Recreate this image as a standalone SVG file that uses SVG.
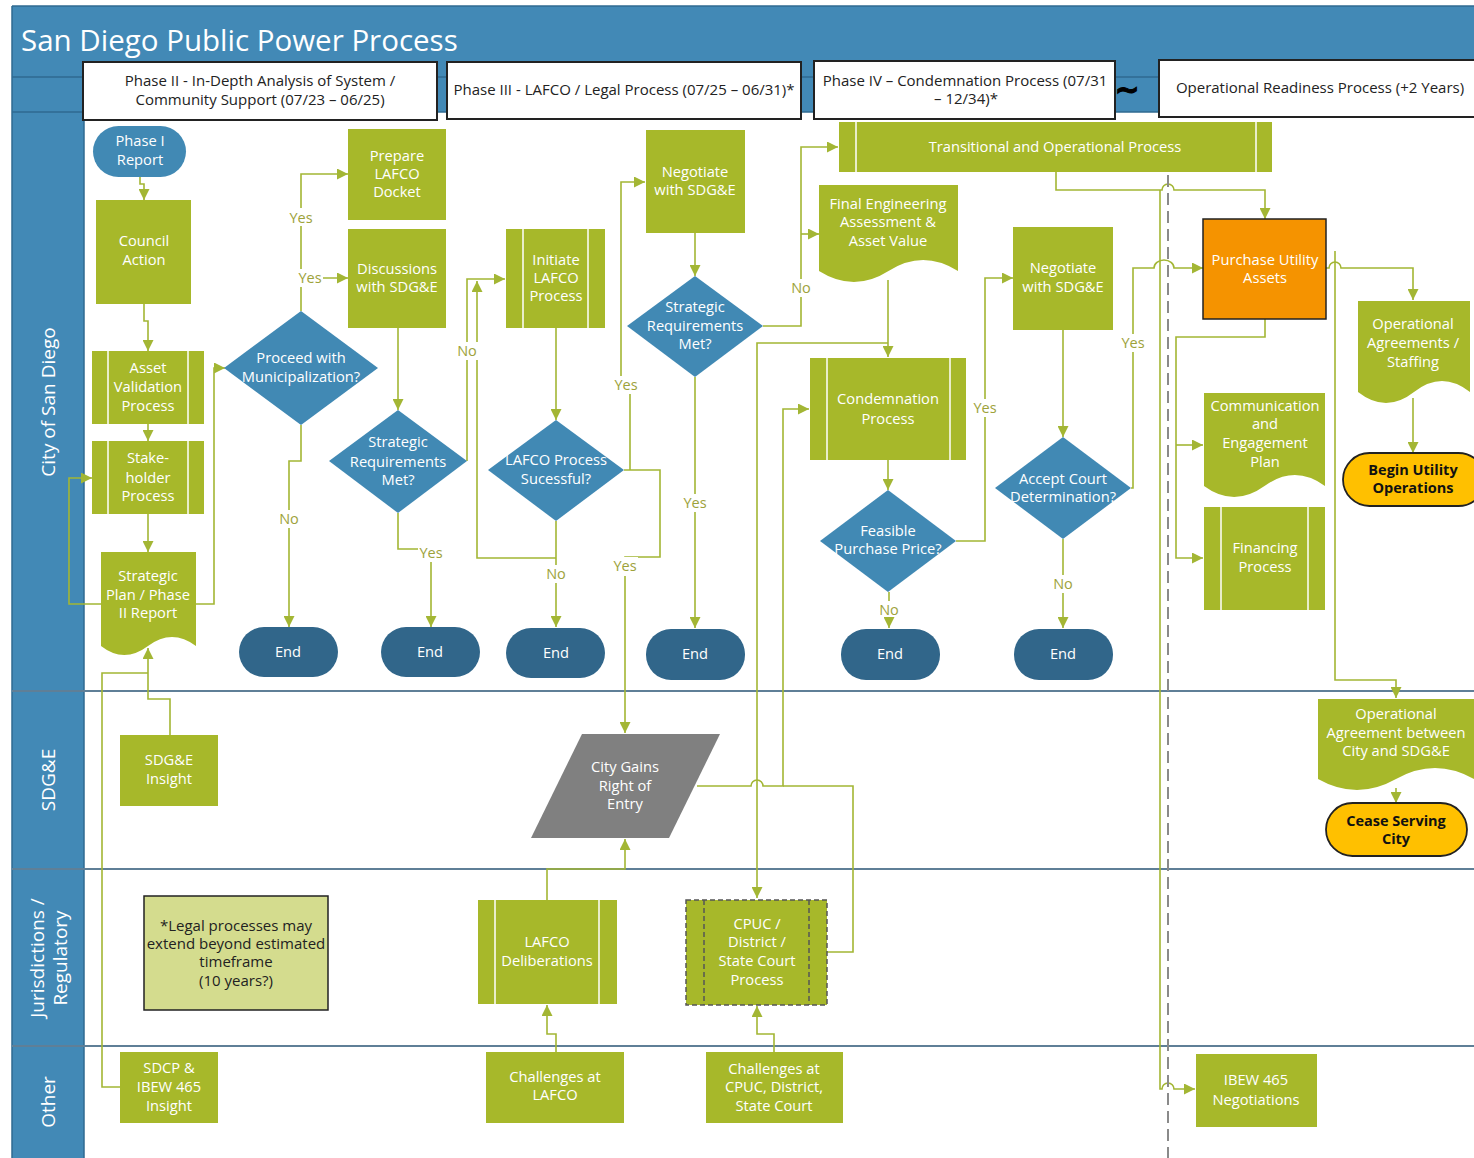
<svg xmlns="http://www.w3.org/2000/svg" width="1474" height="1158" viewBox="0 0 1474 1158">
<style>
.g{fill:#a7b82a}
.bl{fill:#4189b4}
.end{fill:#31668a}
.t{font-family:"Open Sans","Noto Sans",sans-serif;font-size:14.7px;fill:#fff;text-anchor:middle}
.tb{font-family:"Open Sans","Noto Sans",sans-serif;font-size:14.5px;fill:#111;text-anchor:middle;font-weight:bold}
.pt{font-family:"Open Sans","Noto Sans",sans-serif;font-size:15px;fill:#222;text-anchor:middle}
.ln{font-family:"Open Sans","Noto Sans",sans-serif;font-size:19px;fill:#fff;text-anchor:middle}
.bar{stroke:#fff;stroke-width:1.5}
.c{fill:none;stroke:#a3b634;stroke-width:1.6}
.a{marker-end:url(#ah)}
.lb{font-family:"Open Sans","Noto Sans",sans-serif;font-size:14.5px;fill:#9da23a;text-anchor:middle}
.lbg{fill:#fff}
.ph{fill:#fff;stroke:#222;stroke-width:2}
.sep{stroke:#5f7f97;stroke-width:2}
</style>
<defs>
<marker id="ah" markerUnits="userSpaceOnUse" markerWidth="11" markerHeight="11" refX="11" refY="5.5" orient="auto">
<path d="M0,0 L11,5.5 L0,11 z" fill="#a3b634"/>
</marker>
</defs>
<rect width="1474" height="1158" fill="#fff"/>
<g id="frame">
<rect x="12" y="6" width="1462" height="106" fill="#4289b6"/>
<rect x="12" y="112" width="72" height="1046" fill="#4289b6"/>
<line x1="12" y1="6" x2="1474" y2="6" stroke="#2f6a91" stroke-width="1.5"/>
<line x1="12" y1="77" x2="1474" y2="77" stroke="#2f6a91" stroke-width="1.5"/>
<line x1="12" y1="112" x2="1474" y2="112" stroke="#2f6a91" stroke-width="1.5"/>
<line x1="12" y1="6" x2="12" y2="1158" stroke="#2f6a91" stroke-width="1.5"/>
<line x1="84" y1="112" x2="84" y2="1158" stroke="#2f6a91" stroke-width="1.5"/>
<line class="sep" x1="12" y1="691" x2="1474" y2="691"/>
<line class="sep" x1="12" y1="869" x2="1474" y2="869"/>
<line class="sep" x1="12" y1="1046" x2="1474" y2="1046"/>
<text x="21" y="51" font-family="'Open Sans','Noto Sans',sans-serif" font-size="29.5" fill="#fff">San Diego Public Power Process</text>
<text class="ln" x="48" y="409" transform="rotate(-90 48 402)">City of San Diego</text>
<text class="ln" x="48" y="787" transform="rotate(-90 48 780)">SDG&amp;E</text>
<text class="ln" x="48" y="954" transform="rotate(-90 48 958)">Jurisdictions /</text>
<text class="ln" x="48" y="977" transform="rotate(-90 48 958)">Regulatory</text>
<text class="ln" x="48" y="1109" transform="rotate(-90 48 1102)">Other</text>
</g>
<g id="phase2"><rect class="ph" x="83" y="62" width="354" height="58"/><text class="pt" x="260" y="86">Phase II - In-Depth Analysis of System /</text><text class="pt" x="260" y="105">Community Support (07/23 – 06/25)</text></g>
<g id="phase3"><rect class="ph" x="447" y="62" width="354" height="57"/><text class="pt" x="624" y="95">Phase III - LAFCO / Legal Process (07/25 – 06/31)*</text></g>
<g id="phase4"><rect class="ph" x="814" y="61" width="301" height="58"/><text class="pt" x="965" y="86">Phase IV – Condemnation Process (07/31</text><text class="pt" x="966" y="104">– 12/34)*</text></g>
<g id="tilde"><text x="1127" y="100" font-family="'DejaVu Sans',sans-serif" font-size="30" font-weight="bold" fill="#000" stroke="#000" stroke-width="1" text-anchor="middle">~</text></g>
<g id="phase5"><rect class="ph" x="1159" y="60" width="320" height="57"/><text class="pt" x="1320" y="93">Operational Readiness Process (+2 Years)</text></g>

<g id="connectors">
<path class="c a" d="M140,177 V184 H144 V200"/>
<path class="c a" d="M144,304 V321 H148 V351"/>
<path class="c a" d="M148,424 V441"/>
<path class="c a" d="M148,514 V552"/>
<path class="c a" d="M101,604 H69 V478 H92"/>
<path class="c a" d="M196,604 H214 V368 H225"/>
<path class="c a" d="M301,311 V174 H348"/>
<path class="c a" d="M301,278 H348"/>
<path class="c a" d="M301,425 V461 H289 V627"/>
<path class="c a" d="M398,328 V410"/>
<path class="c a" d="M398,513 V549 H431 V627"/>
<path class="c a" d="M467,461 V279 H505"/>
<path class="c a" d="M556,328 V420"/>
<path class="c a" d="M556,521 V627"/>
<path class="c a" d="M556,558 H477 V281"/>
<path class="c a" d="M624,470 H660 V557 H625 V733"/>
<path class="c a" d="M630,470 V392 M621,378 V182 H645"/>
<path class="c a" d="M695,233 V276"/>
<path class="c a" d="M695,377 V628"/>
<path class="c a" d="M763,326 H801 V147 H838"/>
<path class="c a" d="M801,234 H819"/>
<path class="c a" d="M888,280 V357"/>
<path class="c a" d="M888,343 H757 V898"/>
<path class="c a" d="M697,786 H751 a6,6 0 0 1 12,0 H783 V409 H809"/>
<path class="c" d="M827,952 H853 V786 H783"/>
<path class="c a" d="M888,460 V490"/>
<path class="c a" d="M889,592 V628"/>
<path class="c a" d="M956,541 H985 V278 H1013"/>
<path class="c a" d="M1063,330 V437"/>
<path class="c a" d="M1063,539 V628"/>
<path class="c a" d="M1131,488 H1133 V268 H1154 a10,8 0 0 1 20,0 H1203"/>
<path class="c a" d="M1056,172 V190 H1162 a6,6 0 0 1 12,0 H1265 V219"/>
<path class="c a" d="M1160,190 V1089 H1162 a6,6 0 0 1 12,0 H1195"/>
<path class="c a" d="M1265,319 V337 H1176 V558 H1203"/>
<path class="c a" d="M1176,445 H1203"/>
<path class="c a" d="M1326,268 H1329 a6,6 0 0 1 12,0 H1413 V300"/>
<path class="c a" d="M1335,251 V680 H1396 V698"/>
<path class="c a" d="M1413,398 V453"/>
<path class="c a" d="M1396,788 V803"/>
<path class="c a" d="M170,735 V699 H148 V648"/>
<path class="c" d="M120,1087 H102 V673 H148"/>
<path class="c a" d="M547,900 V869 H625 V839"/>
<path class="c a" d="M556,1052 V1034 H547 V1005"/>
<path class="c a" d="M774,1052 V1034 H757 V1006"/>
<path d="M1168,175 V1158" fill="none" stroke="#8a8a8a" stroke-width="2" stroke-dasharray="12,6"/>
<rect class="lbg" x="288" y="208" width="26" height="18"/><text class="lb" x="301" y="223">Yes</text>
<rect class="lbg" x="297" y="269" width="26" height="18"/><text class="lb" x="310" y="283">Yes</text>
<rect class="lbg" x="278" y="510" width="22" height="18"/><text class="lb" x="289" y="524">No</text>
<rect class="lbg" x="418" y="544" width="26" height="18"/><text class="lb" x="431" y="558">Yes</text>
<rect class="lbg" x="456" y="342" width="22" height="18"/><text class="lb" x="467" y="356">No</text>
<rect class="lbg" x="545" y="565" width="22" height="18"/><text class="lb" x="556" y="579">No</text>
<rect class="lbg" x="612" y="557" width="26" height="19"/><text class="lb" x="625" y="571">Yes</text>
<rect class="lbg" x="613" y="376" width="26" height="18"/><text class="lb" x="626" y="390">Yes</text>
<rect class="lbg" x="682" y="494" width="26" height="18"/><text class="lb" x="695" y="508">Yes</text>
<rect class="lbg" x="790" y="279" width="22" height="18"/><text class="lb" x="801" y="293">No</text>
<rect class="lbg" x="878" y="601" width="22" height="16"/><text class="lb" x="889" y="615">No</text>
<rect class="lbg" x="972" y="399" width="26" height="18"/><text class="lb" x="985" y="413">Yes</text>
<rect class="lbg" x="1052" y="575" width="22" height="18"/><text class="lb" x="1063" y="589">No</text>
<rect class="lbg" x="1120" y="334" width="26" height="18"/><text class="lb" x="1133" y="348">Yes</text>
</g>

<g id="phase1-report"><rect class="bl" x="93" y="126" width="93" height="51" rx="25.5"/><text class="t" x="140" y="146">Phase I</text><text class="t" x="140" y="165">Report</text></g>
<g id="council-action"><rect class="g" x="96" y="200" width="95" height="104"/><text class="t" x="144" y="246">Council</text><text class="t" x="144" y="265">Action</text></g>
<g id="asset-validation"><rect class="g" x="92" y="351" width="112" height="73"/><line class="bar" x1="108" y1="351" x2="108" y2="424"/><line class="bar" x1="188" y1="351" x2="188" y2="424"/><text class="t" x="148" y="373">Asset</text><text class="t" x="148" y="392">Validation</text><text class="t" x="148" y="411">Process</text></g>
<g id="stakeholder"><rect class="g" x="92" y="441" width="112" height="73"/><line class="bar" x1="108" y1="441" x2="108" y2="514"/><line class="bar" x1="188" y1="441" x2="188" y2="514"/><text class="t" x="148" y="463">Stake-</text><text class="t" x="148" y="483">holder</text><text class="t" x="148" y="501">Process</text></g>
<g id="strategic-plan"><path class="g" d="M101,552 H196 V646 Q172,628 148,646 T101,646 Z"/><text class="t" x="148" y="581">Strategic</text><text class="t" x="148" y="600">Plan / Phase</text><text class="t" x="148" y="618">II Report</text></g>
<g id="proceed"><path class="bl" d="M301,311 L378,368 L301,425 L224,368 Z"/><text class="t" x="301" y="363">Proceed with</text><text class="t" x="301" y="382">Municipalization?</text></g>
<g id="prepare-lafco"><rect class="g" x="348" y="129" width="98" height="91"/><text class="t" x="397" y="161">Prepare</text><text class="t" x="397" y="179">LAFCO</text><text class="t" x="397" y="197">Docket</text></g>
<g id="discussions"><rect class="g" x="348" y="229" width="98" height="99"/><text class="t" x="397" y="274">Discussions</text><text class="t" x="397" y="292">with SDG&amp;E</text></g>
<g id="strat-req-1"><path class="bl" d="M398,410 L467,461 L398,513 L329,461 Z"/><text class="t" x="398" y="447">Strategic</text><text class="t" x="398" y="467">Requirements</text><text class="t" x="398" y="485">Met?</text></g>
<g id="initiate-lafco"><rect class="g" x="506" y="229" width="99" height="99"/><line class="bar" x1="523" y1="229" x2="523" y2="328"/><line class="bar" x1="588" y1="229" x2="588" y2="328"/><text class="t" x="556" y="265">Initiate</text><text class="t" x="556" y="283">LAFCO</text><text class="t" x="556" y="301">Process</text></g>
<g id="lafco-success"><path class="bl" d="M556,420 L624,470 L556,521 L488,470 Z"/><text class="t" x="556" y="465">LAFCO Process</text><text class="t" x="556" y="484">Sucessful?</text></g>
<g id="negotiate-1"><rect class="g" x="646" y="130" width="99" height="103"/><text class="t" x="695" y="177">Negotiate</text><text class="t" x="695" y="195">with SDG&amp;E</text></g>
<g id="strat-req-2"><path class="bl" d="M695,276 L763,326 L695,377 L627,326 Z"/><text class="t" x="695" y="312">Strategic</text><text class="t" x="695" y="331">Requirements</text><text class="t" x="695" y="349">Met?</text></g>
<g id="transitional"><rect class="g" x="839" y="122" width="433" height="50"/><line class="bar" x1="856" y1="122" x2="856" y2="172"/><line class="bar" x1="1256" y1="122" x2="1256" y2="172"/><text class="t" x="1055" y="152">Transitional and Operational Process</text></g>
<g id="final-engineering"><path class="g" d="M819,185 H958 V271 Q923,249 888.5,271 T819,271 Z"/><text class="t" x="888" y="209">Final Engineering</text><text class="t" x="888" y="227">Assessment &amp;</text><text class="t" x="888" y="246">Asset Value</text></g>
<g id="condemnation"><rect class="g" x="810" y="358" width="156" height="102"/><line class="bar" x1="827" y1="358" x2="827" y2="460"/><line class="bar" x1="950" y1="358" x2="950" y2="460"/><text class="t" x="888" y="404">Condemnation</text><text class="t" x="888" y="424">Process</text></g>
<g id="feasible"><path class="bl" d="M888,490 L956,541 L888,592 L820,541 Z"/><text class="t" x="888" y="536">Feasible</text><text class="t" x="888" y="554">Purchase Price?</text></g>
<g id="negotiate-2"><rect class="g" x="1013" y="227" width="100" height="103"/><text class="t" x="1063" y="273">Negotiate</text><text class="t" x="1063" y="292">with SDG&amp;E</text></g>
<g id="accept-court"><path class="bl" d="M1063,437 L1131,488 L1063,539 L995,488 Z"/><text class="t" x="1063" y="484">Accept Court</text><text class="t" x="1063" y="502">Determination?</text></g>
<g id="purchase"><rect x="1203" y="219" width="123" height="100" fill="#f59300" stroke="#222" stroke-width="1.5"/><text class="t" x="1265" y="265">Purchase Utility</text><text class="t" x="1265" y="283">Assets</text></g>
<g id="communication"><path class="g" d="M1204,393 H1325 V486 Q1295,464 1264.5,486 T1204,486 Z"/><text class="t" x="1265" y="411">Communication</text><text class="t" x="1265" y="429">and</text><text class="t" x="1265" y="448">Engagement</text><text class="t" x="1265" y="467">Plan</text></g>
<g id="financing"><rect class="g" x="1204" y="507" width="121" height="103"/><line class="bar" x1="1221" y1="507" x2="1221" y2="610"/><line class="bar" x1="1308" y1="507" x2="1308" y2="610"/><text class="t" x="1265" y="553">Financing</text><text class="t" x="1265" y="572">Process</text></g>
<g id="op-agreements"><path class="g" d="M1358,301 H1470 V392 Q1442,370 1414,392 T1358,392 Z"/><text class="t" x="1413" y="329">Operational</text><text class="t" x="1413" y="348">Agreements /</text><text class="t" x="1413" y="367">Staffing</text></g>
<g id="begin-ops"><rect x="1343" y="453" width="142" height="53" rx="26.5" fill="#ffc000" stroke="#222" stroke-width="1.8"/><text class="tb" x="1413" y="475">Begin Utility</text><text class="tb" x="1413" y="493">Operations</text></g>
<g id="end-1"><rect class="end" x="239" y="627" width="99" height="50" rx="25"/><text class="t" x="288" y="657">End</text></g>
<g id="end-2"><rect class="end" x="381" y="627" width="99" height="50" rx="25"/><text class="t" x="430" y="657">End</text></g>
<g id="end-3"><rect class="end" x="506" y="628" width="99" height="50" rx="25"/><text class="t" x="556" y="658">End</text></g>
<g id="end-4"><rect class="end" x="646" y="629" width="99" height="51" rx="25"/><text class="t" x="695" y="659">End</text></g>
<g id="end-5"><rect class="end" x="841" y="629" width="99" height="51" rx="25"/><text class="t" x="890" y="659">End</text></g>
<g id="end-6"><rect class="end" x="1014" y="629" width="99" height="51" rx="25"/><text class="t" x="1063" y="659">End</text></g>

<g id="sdge-insight"><rect class="g" x="120" y="735" width="98" height="71"/><text class="t" x="169" y="765">SDG&amp;E</text><text class="t" x="169" y="784">Insight</text></g>
<g id="city-gains"><path d="M582,734 H720 L669,838 H531 Z" fill="#808080"/><text class="t" x="625" y="772">City Gains</text><text class="t" x="625" y="791">Right of</text><text class="t" x="625" y="809">Entry</text></g>
<g id="op-agreement-between"><path class="g" d="M1318,699 H1474 V779 Q1435,757 1396,779 T1318,779 Z"/><text class="t" x="1396" y="719">Operational</text><text class="t" x="1396" y="738">Agreement between</text><text class="t" x="1396" y="756">City and SDG&amp;E</text></g>
<g id="cease-serving"><rect x="1326" y="803" width="141" height="53" rx="26.5" fill="#ffc000" stroke="#222" stroke-width="1.8"/><text class="tb" x="1396" y="826">Cease Serving</text><text class="tb" x="1396" y="844">City</text></g>

<g id="legal-note"><rect x="144" y="896" width="184" height="114" fill="#d4dc8e" stroke="#222" stroke-width="1.5"/><text class="pt" x="236" y="931">*Legal processes may</text><text class="pt" x="236" y="949">extend beyond estimated</text><text class="pt" x="236" y="967">timeframe</text><text class="pt" x="236" y="986">(10 years?)</text></g>
<g id="lafco-deliberations"><rect class="g" x="478" y="900" width="139" height="104"/><line class="bar" x1="495" y1="900" x2="495" y2="1004"/><line class="bar" x1="599" y1="900" x2="599" y2="1004"/><text class="t" x="547" y="947">LAFCO</text><text class="t" x="547" y="966">Deliberations</text></g>
<g id="cpuc-process"><rect class="g" x="686" y="900" width="141" height="105" stroke="#555" stroke-width="1.5" stroke-dasharray="5,3"/><line x1="704" y1="900" x2="704" y2="1005" stroke="#555" stroke-width="1.5" stroke-dasharray="5,3"/><line x1="809" y1="900" x2="809" y2="1005" stroke="#555" stroke-width="1.5" stroke-dasharray="5,3"/><text class="t" x="757" y="929">CPUC /</text><text class="t" x="757" y="947">District /</text><text class="t" x="757" y="966">State Court</text><text class="t" x="757" y="985">Process</text></g>

<g id="sdcp-insight"><rect class="g" x="120" y="1052" width="98" height="71"/><text class="t" x="169" y="1073">SDCP &amp;</text><text class="t" x="169" y="1092">IBEW 465</text><text class="t" x="169" y="1111">Insight</text></g>
<g id="challenges-lafco"><rect class="g" x="486" y="1052" width="138" height="71"/><text class="t" x="555" y="1082">Challenges at</text><text class="t" x="555" y="1100">LAFCO</text></g>
<g id="challenges-cpuc"><rect class="g" x="706" y="1052" width="137" height="71"/><text class="t" x="774" y="1074">Challenges at</text><text class="t" x="774" y="1092">CPUC, District,</text><text class="t" x="774" y="1111">State Court</text></g>
<g id="ibew-negotiations"><rect class="g" x="1196" y="1054" width="121" height="73"/><text class="t" x="1256" y="1085">IBEW 465</text><text class="t" x="1256" y="1105">Negotiations</text></g>
</svg>
